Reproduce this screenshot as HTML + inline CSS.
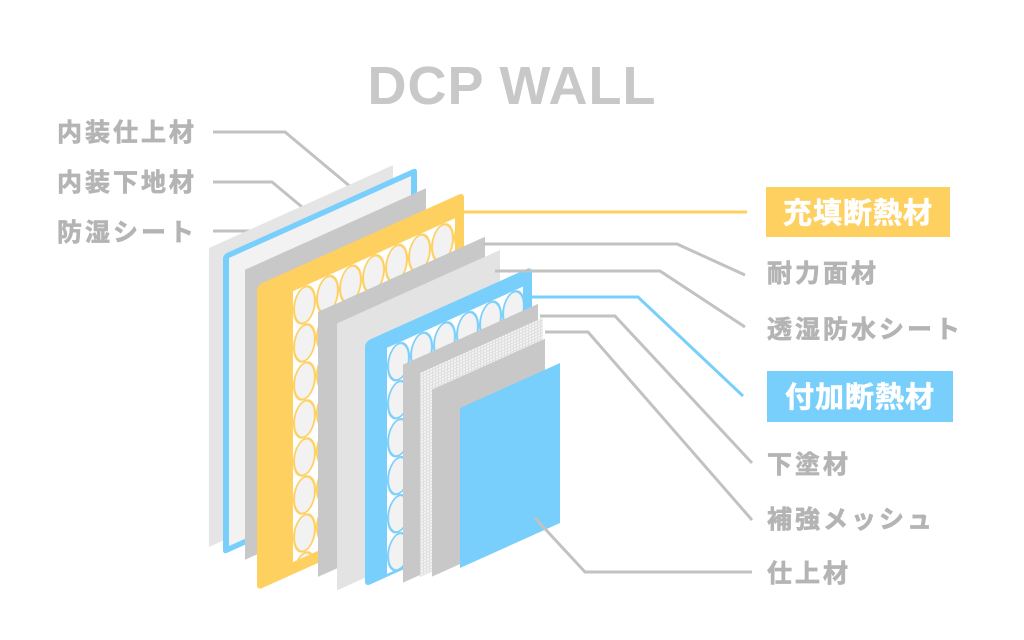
<!DOCTYPE html>
<html><head><meta charset="utf-8"><style>
html,body{margin:0;padding:0;background:#fff;width:1024px;height:640px;overflow:hidden;}
svg{display:block;}
.l{font-family:"Liberation Sans","Noto Sans CJK JP",sans-serif;font-weight:bold;font-size:25px;fill:#b4b4b4;stroke:#b4b4b4;stroke-width:0.7;letter-spacing:3px;}
.b{font-family:"Liberation Sans","Noto Sans CJK JP",sans-serif;font-weight:bold;font-size:29px;fill:#fff;stroke:#fff;stroke-width:0.6;letter-spacing:1px;}
</style></head><body>
<svg width="1024" height="640" viewBox="0 0 1024 640" xmlns="http://www.w3.org/2000/svg">
<defs>
<clipPath id="c"><rect width="1024" height="640"/></clipPath>
<pattern id="py" patternUnits="userSpaceOnUse" x="293" y="423" width="23" height="38">
<rect width="23" height="38" fill="#fff"/>
<ellipse cx="11.5" cy="19" rx="10.5" ry="18" fill="#f2f2f2" stroke="#fdd060" stroke-width="2"/>
</pattern>
<pattern id="pb" patternUnits="userSpaceOnUse" x="387" y="522" width="23" height="38">
<rect width="23" height="38" fill="#fff"/>
<ellipse cx="11.5" cy="19" rx="10.5" ry="18" fill="#f2f2f2" stroke="#79cffb" stroke-width="2"/>
</pattern>
<pattern id="pm" patternUnits="userSpaceOnUse" width="3" height="3">
<rect width="3" height="3" fill="#f4f4f4"/>
<rect width="1" height="3" fill="#dedede"/><rect width="3" height="1" fill="#dedede"/>
</pattern>
</defs>
<g clip-path="url(#c)">
<text x="512" y="104" text-anchor="middle" font-family="Liberation Sans,sans-serif" font-weight="bold" font-size="54" fill="#c8c8c8" letter-spacing="1">DCP WALL</text>

<g fill="none" stroke="#c2c2c2" stroke-width="3">
<polyline points="213,132 285,132 352,188"/>
<polyline points="213,182 272,182 320,222"/>
<polyline points="213,231 258,231 288,252"/>
</g>

<g transform="matrix(1,-0.45,0,1,0,0)">
<rect x="209" y="342" width="184" height="299" fill="#e5e5e5"/>
<rect x="223" y="355" width="194" height="300" rx="4" fill="#79cffb"/>
<rect x="229" y="361" width="182" height="288" fill="#f2f2f2"/>
<rect x="245" y="380" width="181" height="290" fill="#c8c8c8"/>
<rect x="257" y="401" width="207" height="305" rx="5" fill="#fdd060"/>
<rect x="293" y="423" width="162" height="271" fill="url(#py)"/>
<rect x="318" y="455" width="167" height="265" fill="#c8c8c8"/>
<rect x="337" y="475" width="163" height="267" fill="#e3e3e3"/>
<rect x="365" y="506" width="167" height="245" rx="5" fill="#79cffb"/>
<rect x="387" y="522" width="136" height="226" fill="url(#pb)"/>
<rect x="403" y="546" width="135" height="218" fill="#c8c8c8"/>
<rect x="420" y="562" width="123" height="204" fill="url(#pm)"/>
<rect x="432" y="584" width="113" height="187" fill="#c8c8c8"/>
<rect x="460" y="615" width="100" height="160" fill="#79cffb"/>
</g>

<line x1="462" y1="212" x2="747" y2="212" stroke="#fdd060" stroke-width="3"/>
<g fill="none" stroke="#c2c2c2" stroke-width="3">
<polyline points="483,244 677,244 745,275"/>
<polyline points="495,271 660,271 745,327"/>
<polyline points="540,316 615,316 752,463"/>
<polyline points="545,332 588,332 752,520"/>
<polyline points="535,518 585,572 752,572"/>
</g>
<polyline points="532,297 638,297 743,396" fill="none" stroke="#79cffb" stroke-width="3"/>

<rect x="766" y="187" width="184" height="50" fill="#fdd060"/>
<text class="b" x="858" y="223" text-anchor="middle">充填断熱材</text>
<rect x="767" y="371" width="186" height="51" fill="#79cffb"/>
<text class="b" x="860" y="407" text-anchor="middle">付加断熱材</text>

<text class="l" x="57" y="141">内装仕上材</text>
<text class="l" x="57" y="191">内装下地材</text>
<text class="l" x="57" y="241">防湿シート</text>
<text class="l" x="767" y="282">耐力面材</text>
<text class="l" x="767" y="338">透湿防水シート</text>
<text class="l" x="767" y="473">下塗材</text>
<text class="l" x="767" y="528">補強メッシュ</text>
<text class="l" x="767" y="582">仕上材</text>
</g>
</svg>
</body></html>
